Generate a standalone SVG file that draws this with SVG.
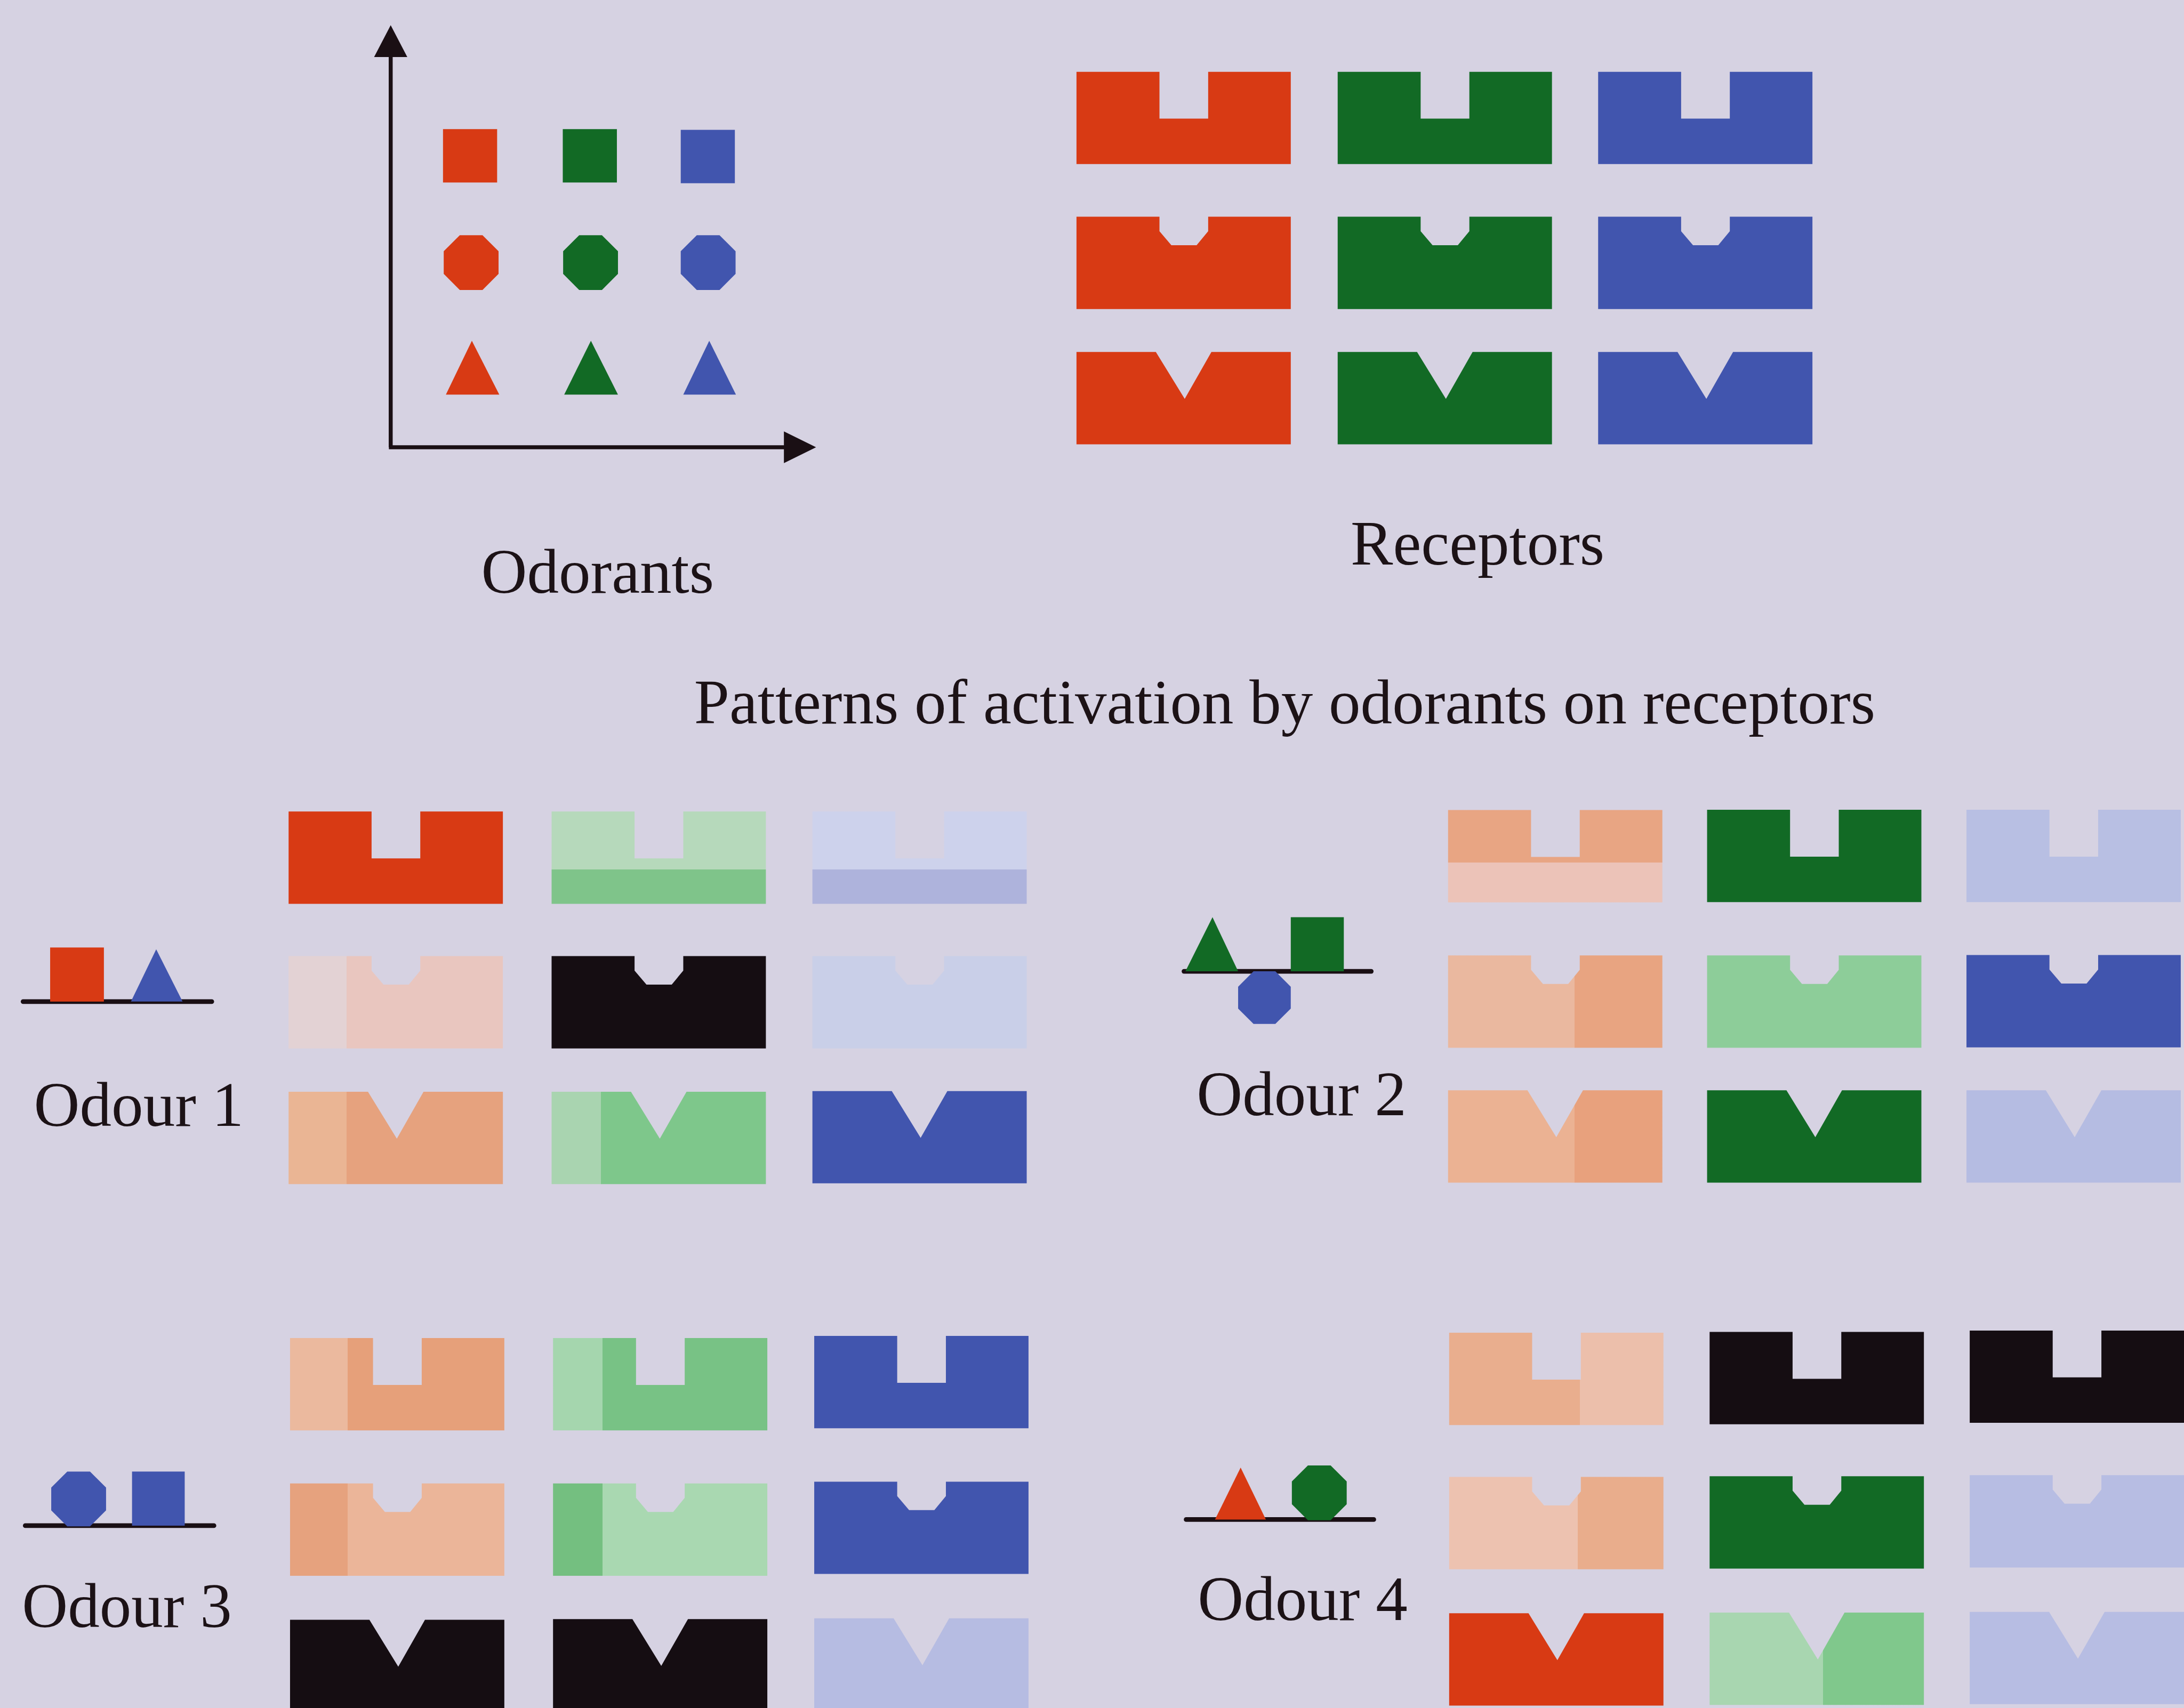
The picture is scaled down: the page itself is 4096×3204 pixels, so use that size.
<svg xmlns="http://www.w3.org/2000/svg" xmlns:xlink="http://www.w3.org/1999/xlink" width="4096" height="3204" viewBox="0 0 4096 3204">
<style>
text{font-family:"Liberation Serif","Times New Roman",serif;font-size:176px;fill:#1c1216}
.r{fill:#d83a14}.g{fill:#126a25}.b{fill:#4155ae}.k{fill:#150d12}
.ax{stroke:#1a0f14;stroke-width:11;fill:none}
.base{stroke:#1a0f14;stroke-width:13;stroke-linecap:round;fill:none}
</style>
<defs>
<path id="recU" d="M0,0 H230 V130 H365 V0 H594 V256 H0 Z"/>
<path id="recO" d="M0,0 H230 V40 L263,79 H333 L365,40 V0 H594 V256 H0 Z"/>
<path id="recV" d="M0,0 H220 L300,130 L374,0 H594 V256 H0 Z"/>
<polygon id="oct" points="-31.5,-76 31.5,-76 76,-31.5 76,31.5 31.5,76 -31.5,76 -76,31.5 -76,-31.5"/>
<linearGradient id="o1a" x1="0" y1="0" x2="0" y2="1"><stop offset="0.63" stop-color="#b6d9bb"/><stop offset="0.63" stop-color="#7fc48a"/></linearGradient>
<linearGradient id="o1b" x1="0" y1="0" x2="0" y2="1"><stop offset="0.63" stop-color="#cdd2ec"/><stop offset="0.63" stop-color="#aeb3dc"/></linearGradient>
<linearGradient id="o1c"><stop offset="0.27" stop-color="#e3d2d4"/><stop offset="0.27" stop-color="#e9c6bf"/></linearGradient>
<linearGradient id="o1d"><stop offset="0.27" stop-color="#eab594"/><stop offset="0.27" stop-color="#e6a27e"/></linearGradient>
<linearGradient id="o1e"><stop offset="0.23" stop-color="#a9d4b0"/><stop offset="0.23" stop-color="#7ec78b"/></linearGradient>
<linearGradient id="o2a" x1="0" y1="0" x2="0" y2="1"><stop offset="0.57" stop-color="#e8a583"/><stop offset="0.57" stop-color="#ecc3b8"/></linearGradient>
<linearGradient id="o2b"><stop offset="0.59" stop-color="#eab89f"/><stop offset="0.59" stop-color="#e8a481"/></linearGradient>
<linearGradient id="o2c"><stop offset="0.59" stop-color="#ebb293"/><stop offset="0.59" stop-color="#e8a17d"/></linearGradient>
<linearGradient id="o3a"><stop offset="0.27" stop-color="#ebb99e"/><stop offset="0.27" stop-color="#e6a07a"/></linearGradient>
<linearGradient id="o3b"><stop offset="0.23" stop-color="#a5d6ae"/><stop offset="0.23" stop-color="#78c285"/></linearGradient>
<linearGradient id="o3c"><stop offset="0.27" stop-color="#e6a27e"/><stop offset="0.27" stop-color="#ebb599"/></linearGradient>
<linearGradient id="o3d"><stop offset="0.23" stop-color="#74bf80"/><stop offset="0.23" stop-color="#a9d8b1"/></linearGradient>
<linearGradient id="o4a"><stop offset="0.61" stop-color="#e9ae8e"/><stop offset="0.61" stop-color="#ecbfab"/></linearGradient>
<linearGradient id="o4b"><stop offset="0.6" stop-color="#edc2b0"/><stop offset="0.6" stop-color="#e9ad8c"/></linearGradient>
<linearGradient id="o4c"><stop offset="0.53" stop-color="#a8d6b0"/><stop offset="0.53" stop-color="#80c88c"/></linearGradient>
</defs>
<rect width="4096" height="3204" fill="#d6d2e2"/>
<g transform="scale(0.67658)">

<g id="axes">
<line class="ax" x1="1083" y1="150" x2="1083" y2="1240"/>
<line class="ax" x1="1078" y1="1240" x2="2180" y2="1240"/>
<polygon fill="#1a0f14" points="1083,70 1129,158 1037,158"/>
<polygon fill="#1a0f14" points="2262,1240 2173,1196 2173,1284"/>
</g>

<g id="odorants">
<rect class="r" x="1228" y="358" width="150" height="148"/>
<rect class="g" x="1560" y="358" width="150" height="148"/>
<rect class="b" x="1887" y="360" width="150" height="148"/>
<use href="#oct" x="1306" y="728" class="r"/>
<use href="#oct" x="1637" y="728" class="g"/>
<use href="#oct" x="1963" y="728" class="b"/>
<polygon class="r" points="1236,1094 1384,1094 1308,945"/>
<polygon class="g" points="1564,1094 1713,1094 1638,945"/>
<polygon class="b" points="1894,1094 2040,1094 1966,945"/>
</g>

<g id="receptors">
<use href="#recU" x="2984" y="199" class="r"/>
<use href="#recU" x="3708" y="199" class="g"/>
<use href="#recU" x="4430" y="199" class="b"/>
<use href="#recO" x="2984" y="601" class="r"/>
<use href="#recO" x="3708" y="601" class="g"/>
<use href="#recO" x="4430" y="601" class="b"/>
<use href="#recV" x="2984" y="976" class="r"/>
<use href="#recV" x="3708" y="976" class="g"/>
<use href="#recV" x="4430" y="976" class="b"/>
</g>

<g id="labels">
<text x="1334" y="1643">Odorants</text>
<text x="3744" y="1565">Receptors</text>
<text x="1924" y="2005">Patterns of activation by odorants on receptors</text>
</g>

<g id="odour1">
<line class="base" x1="64" y1="2777" x2="587" y2="2777"/>
<rect class="r" x="139" y="2627" width="149" height="150"/>
<polygon class="b" points="363,2777 506,2777 433,2632"/>
<text x="94" y="3121">Odour 1</text>
<use href="#recU" x="800" y="2250" class="r"/>
<use href="#recU" x="1529" y="2250" fill="url(#o1a)"/>
<use href="#recU" x="2252" y="2250" fill="url(#o1b)"/>
<use href="#recO" x="800" y="2651" fill="url(#o1c)"/>
<use href="#recO" x="1529" y="2651" class="k"/>
<use href="#recO" x="2252" y="2651" fill="#c9cfe8"/>
<use href="#recV" x="800" y="3027" fill="url(#o1d)"/>
<use href="#recV" x="1529" y="3027" fill="url(#o1e)"/>
<use href="#recV" x="2252" y="3025" class="b"/>
</g>

<g id="odour2">
<line class="base" x1="3282" y1="2693" x2="3801" y2="2693"/>
<polygon class="g" points="3286,2693 3432,2693 3361,2543"/>
<rect class="g" x="3578" y="2543" width="147" height="150"/>
<use href="#oct" x="3505" y="2766" class="b" transform="translate(3505 2766) scale(0.96) translate(-3505 -2766)"/>
<text x="3317" y="3092">Odour 2</text>
<use href="#recU" x="4014" y="2246" fill="url(#o2a)"/>
<use href="#recU" x="4732" y="2245" class="g"/>
<use href="#recU" x="5451" y="2245" fill="#b8bfe3"/>
<use href="#recO" x="4014" y="2649" fill="url(#o2b)"/>
<use href="#recO" x="4732" y="2649" fill="#8dcd99"/>
<use href="#recO" x="5451" y="2648" class="b"/>
<use href="#recV" x="4014" y="3023" fill="url(#o2c)"/>
<use href="#recV" x="4732" y="3023" class="g"/>
<use href="#recV" x="5451" y="3023" fill="#b5bce2"/>
</g>

<g id="odour3">
<line class="base" x1="70" y1="4230" x2="593" y2="4230"/>
<use href="#oct" x="218" y="4156" class="b"/>
<rect class="b" x="366" y="4080" width="146" height="150"/>
<text x="61" y="4511">Odour 3</text>
<use href="#recU" x="804" y="3710" fill="url(#o3a)"/>
<use href="#recU" x="1533" y="3710" fill="url(#o3b)"/>
<use href="#recU" x="2257" y="3704" class="b"/>
<use href="#recO" x="804" y="4113" fill="url(#o3c)"/>
<use href="#recO" x="1533" y="4113" fill="url(#o3d)"/>
<use href="#recO" x="2257" y="4108" class="b"/>
<use href="#recV" x="804" y="4491" class="k"/>
<use href="#recV" x="1533" y="4489" class="k"/>
<use href="#recV" x="2257" y="4487" fill="#b6bce2"/>
</g>

<g id="odour4">
<line class="base" x1="3288" y1="4213" x2="3808" y2="4213"/>
<polygon class="r" points="3368,4213 3509,4213 3439,4069"/>
<use href="#oct" x="3657" y="4139" class="g"/>
<text x="3320" y="4491">Odour 4</text>
<use href="#recU" x="4017" y="3695" fill="url(#o4a)"/>
<use href="#recU" x="4739" y="3693" class="k"/>
<use href="#recU" x="5460" y="3689" class="k"/>
<use href="#recO" x="4017" y="4095" fill="url(#o4b)"/>
<use href="#recO" x="4739" y="4093" class="g"/>
<use href="#recO" x="5460" y="4090" fill="#b7bde3"/>
<use href="#recV" x="4017" y="4473" class="r"/>
<use href="#recV" x="4739" y="4471" fill="url(#o4c)"/>
<use href="#recV" x="5460" y="4469" fill="#b7bde3"/>
</g>

</g>
</svg>
